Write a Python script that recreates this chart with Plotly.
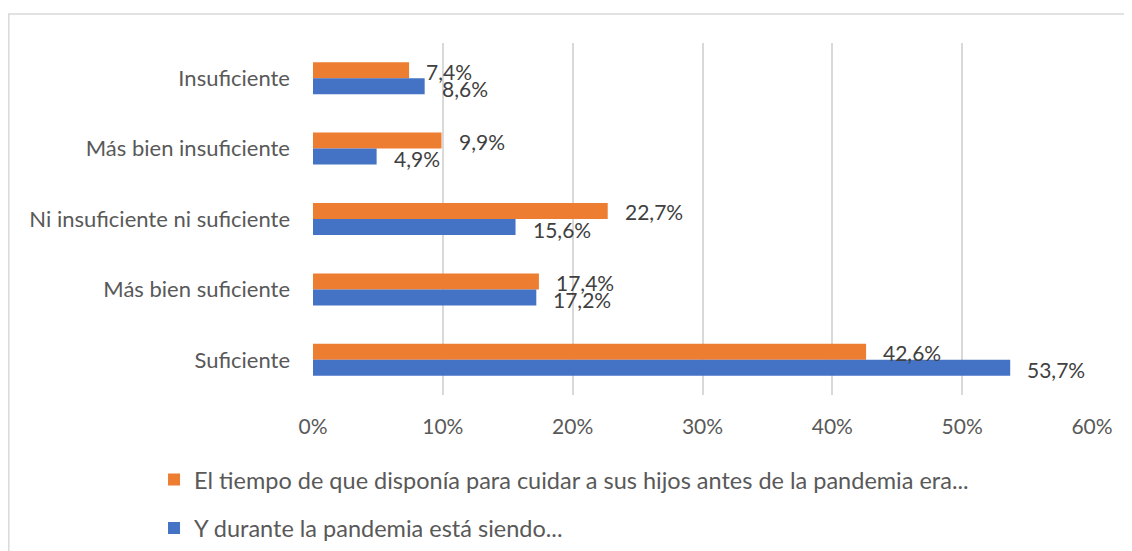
import plotly.graph_objects as go

categories = ["Insuficiente", "Más bien insuficiente", "Ni insuficiente ni suficiente",
              "Más bien suficiente", "Suficiente"]
antes = [7.4, 9.9, 22.7, 17.4, 42.6]
durante = [8.6, 4.9, 15.6, 17.2, 53.7]
name_antes = "El tiempo de que disponía para cuidar a sus hijos antes de la pandemia era..."
name_durante = "Y durante la pandemia está siendo..."
x_ticks = [0, 10, 20, 30, 40, 50, 60]
x_ticktext = [f"{v}%" for v in x_ticks]

ORANGE = "#ED7D31"
BLUE = "#4472C4"
FONT = "Lato"
TXT = "#595959"

fig = go.Figure()
fig.add_trace(go.Bar(y=categories, x=antes, orientation="h", name=name_antes,
                     marker=dict(color=ORANGE, line=dict(width=0)), legendgroup="a"))
fig.add_trace(go.Bar(y=categories, x=durante, orientation="h", name=name_durante,
                     marker=dict(color=BLUE, line=dict(width=0)), legendgroup="b"))

# data labels (outside end, with Excel-like spacing)
group_w = 1 - 0.545
off = group_w / 4
annotations = []
for i, (a, d) in enumerate(zip(antes, durante)):
    for val, o, ys in ((a, -off, -1), (d, off, -2)):
        annotations.append(dict(x=val, y=i + o, xref="x", yref="y",
                                text=f"{val:.1f}%".replace(".", ","),
                                showarrow=False, xanchor="left", yanchor="middle",
                                xshift=15, yshift=ys,
                                font=dict(family=FONT, size=21, color="#404040")))

fig.update_layout(
    width=1132, height=551,
    margin=dict(l=305, r=48, t=35, b=164, autoexpand=False),
    paper_bgcolor="white", plot_bgcolor="white",
    barmode="group", bargap=0.545, bargroupgap=0,
    font=dict(family=FONT, size=21, color=TXT),
    annotations=annotations,
    showlegend=True,
    legend=dict(orientation="v", xref="container", yref="container",
                x=0.129, y=0.184, xanchor="left", yanchor="top",
                traceorder="grouped", tracegroupgap=15,
                font=dict(family=FONT, size=23.5, color=TXT),
                bgcolor="rgba(0,0,0,0)"),
    xaxis=dict(range=[0, 60], tickvals=x_ticks, ticktext=x_ticktext,
               showgrid=True, gridcolor="#D9D9D9", gridwidth=1.5,
               zeroline=False, showline=False, ticks="",
               ticklabelstandoff=17, fixedrange=True, automargin=False,
               tickfont=dict(family=FONT, size=21, color=TXT)),
    yaxis=dict(type="category", categoryorder="array", categoryarray=categories,
               autorange="reversed", showgrid=False, zeroline=False,
               showline=False, ticks="", ticklabelstandoff=22, fixedrange=True,
               automargin=False, tickfont=dict(family=FONT, size=22, color=TXT)),
    shapes=[dict(type="rect", xref="paper", yref="paper",
                 x0=-0.3905, x1=1.2, y0=-0.6, y1=1.0824,
                 line=dict(color="#D9D9D9", width=1.5), fillcolor="rgba(0,0,0,0)",
                 layer="below")],
)

fig.write_html("out.html")
